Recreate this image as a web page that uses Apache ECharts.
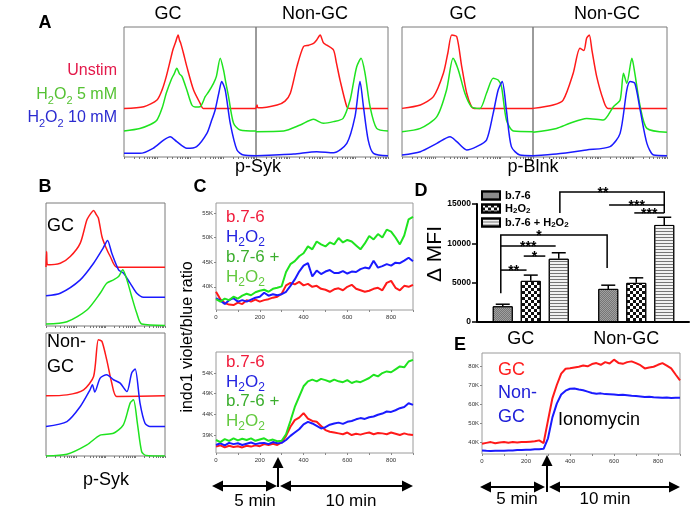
<!DOCTYPE html>
<html>
<head>
<meta charset="utf-8">
<script src="https://cdn.jsdelivr.net/npm/echarts@6/dist/echarts.min.js"></script>
<style>html,body{margin:0;padding:0;background:#fff}#main{width:695px;height:511px}</style>
</head>
<body>
<div id="main"></div>
<script>
// ---- data ----
// A: flow histograms, x = log fluorescence (0-100), y = offset count (0-100)
var aSykGcRed = [[0,37.4],[15,38.7],[25,43.8],[29,52],[32,61.8],[35,74],[37,82.3],[39,88],[41,93.8],[42,90],[43,87.4],[45,80],[47.6,69.5],[52.7,51.5],[57.7,41.3],[60,37.4],[100,37.4]];
var aSykGcGreen = [[0,20],[12,22],[20,25],[25,28.5],[29,38],[32,49],[36,60],[38,64],[40,68.2],[42,64],[44,61.8],[47.6,51.5],[51.4,40],[54,38.5],[57.7,38.7],[61.5,46.4],[64,50],[67.8,56.7],[70,62],[72.9,75.9],[75.4,66.9],[77,58],[79.2,46.4],[83,25.9],[88,20.8],[100,20]];
var aSykGcBlue = [[0,2.8],[12,2.8],[22,6.7],[30,13],[35,15.6],[40,11.8],[47.6,6.7],[55,8],[62.8,18.2],[66,27],[69,36],[72,50],[74,58],[76.7,51.5],[80.5,25.9],[85.6,5.4],[90.6,1.5],[100,1]];
var aSykNonRed = [[0,37.4],[0.8,40],[1.5,37.8],[16,40],[22,43],[26,49],[31,69.5],[36,85],[40,86],[43.6,87.4],[46,90],[48.6,93.8],[51,88],[53.7,86],[58.7,82.3],[61,72],[63.7,59],[68.8,38.7],[71,37.4],[100,37.4]];
var aSykNonGreen = [[0,19.5],[21,20],[33.5,24.6],[43.6,29],[51,25.9],[58.7,27.2],[66,29.7],[71.3,43.8],[74,58],[76.3,69.5],[79.6,75.9],[82.6,64.4],[86.4,38.7],[91.4,22],[100,20]];
var aSykNonBlue = [[0,1],[28.5,2.3],[46,4.1],[58.7,3.3],[68.8,10.5],[75,31],[78.8,58],[81.4,38.7],[85,13],[89,2.8],[100,1]];
var aBlnkGcRed = [[0,37.4],[14,40],[24,46.4],[31.6,64.4],[35,80],[38,93.8],[41.8,92.6],[45.6,69.5],[49.4,49],[53,38.7],[55,37.4],[100,37.4]];
var aBlnkGcGreen = [[0,19.5],[14,22],[26.6,31],[34,51.5],[39,75.9],[43,67],[48,49],[53,38.7],[59.5,37.4],[64.5,49],[69.6,60.5],[73.4,59.2],[76,54],[79.7,28.5],[85,20],[100,19.5]];
var aBlnkGcBlue = [[0,1.5],[14,4.1],[26.6,10.5],[36.7,15.6],[41.8,11.8],[49.4,5.4],[57,8],[64.5,13],[69.6,33.6],[73.4,51.5],[76.5,58],[79.7,36],[83.5,8],[90,1.5],[100,1]];
var aBlnkNonRed = [[0,37.4],[15,40],[22.5,43.8],[30,64.4],[35,83.6],[38,82],[40,91.3],[42,93.8],[44,82],[47.5,62],[52.5,43.8],[56,37.4],[100,37.4]];
var aBlnkNonGreen = [[0,19],[17.5,22],[27.5,25.9],[40,29.7],[52.5,28.5],[60,38.7],[65,43.8],[67.5,64.4],[70,56.7],[73.8,75.9],[76,64.4],[80,38.7],[85,22],[100,19]];
var aBlnkNonBlue = [[0,1],[17.5,2.3],[40,5.4],[57.5,8],[65,18.2],[70,51.5],[72.5,58],[76,56.7],[80,36],[85,10.5],[90,1.5],[100,1]];

// B: p-Syk histograms
var bGcRed = [[0,48],[0.5,60.6],[1.2,49.7],[12,51],[20.4,56.5],[28.8,67.4],[34.4,86.4],[38,92],[40,94],[42,91],[44,87.8],[47,72.8],[50,64.7],[54,56.5],[59.5,47.8],[100,47.8]];
var bGcBlue = [[0,24.5],[12,26.6],[28.8,37.5],[40,51],[48,63.3],[51.7,69.6],[55.3,59.2],[61,45.7],[65,43],[70.7,34.8],[76.3,26.6],[82,23.4],[100,23.4]];
var bGcGreen = [[0,1.6],[17.6,3.5],[34.4,13],[45.5,26.6],[51,34.8],[56.7,37.5],[61,40.2],[64.5,45.7],[68,37.5],[72,24],[76.3,10.3],[80.4,1.6],[100,0.5]];
var bNonRed = [[0,48.9],[17.6,49.7],[31.6,53.8],[40,64.7],[44,94.6],[47,93.2],[51,78.3],[55.3,59.2],[59.5,48.4],[100,48.9]];
var bNonBlue = [[0,24],[17.6,28],[28.8,40.2],[37,53.8],[39,58],[41,52],[45.5,63.3],[51,66],[56.7,62],[62.3,59.2],[68,52.4],[72,67.4],[74.9,70.7],[79,43],[83.2,26.6],[87.4,24],[100,24]];
var bNonGreen = [[0,0],[17.6,1.4],[34.4,9],[45.5,17],[56.7,18.5],[65,25.3],[70.7,43],[73.5,45.7],[76.8,26.6],[80.4,3.5],[84,0.5],[100,0]];

// C / E: calcium flux, time in s, ratio in K
var times = [0,20,40,60,80,100,120,140,160,180,200,220,240,260,280,300,320,340,360,380,400,420,440,460,480,500,520,540,560,580,600,620,640,660,680,700,720,740,760,780,800,820,840,860,880,900];
var cTopB76 = [39.0,37.5,36.7,36.4,36.3,36.8,36.5,37.3,37.0,37.4,37.0,37.3,37.5,37.8,38.0,38.6,40.3,40.8,40.5,41.0,40.3,40.6,40.0,40.2,39.6,39.4,39.0,39.5,39.7,39.3,40.0,40.4,39.6,39.3,39.0,39.2,39.6,39.8,39.3,40.8,41.2,39.8,39.3,40.2,40.0,40.4];
var cTopH2o2 = [37.7,37.2,36.5,37.3,37.7,37.0,37.3,37.0,37.4,37.8,38.0,38.8,38.2,38.5,38.3,38.5,39.0,40.2,41.5,43.1,44.3,44.8,42.1,43.3,42.6,43.1,43.4,42.8,42.8,43.2,42.7,43.1,43.0,43.6,43.9,43.7,45.3,43.9,44.2,44.6,44.3,44.9,44.8,45.3,45.9,45.2];
var cTopBoth = [37.5,37.0,37.6,37.3,38.0,37.6,38.2,38.6,38.3,38.9,39.2,39.4,39.0,39.6,39.8,40.1,43.0,44.6,45.2,46.2,46.8,48.2,47.6,49.2,48.6,48.2,49.0,48.6,49.9,49.0,49.5,49.2,48.4,47.6,48.8,50.3,49.6,50.7,50.0,51.6,51.2,50.0,48.6,50.4,53.7,54.2];
var cBotB76 = [36.2,36.5,36.0,36.4,36.1,36.3,36.0,36.4,36.2,36.5,36.3,36.8,36.6,36.9,36.6,37.2,38.8,41.0,42.6,43.2,44.3,43.0,42.4,42.2,41.2,40.2,39.8,39.6,39.4,39.2,39.6,39.0,39.3,39.1,39.4,39.6,39.2,39.5,39.4,39.2,39.6,39.3,39.0,39.4,39.1,39.0];
var cBotH2o2 = [36.6,37.0,36.5,37.1,36.8,37.0,36.6,36.9,37.2,36.8,37.0,37.1,36.8,37.3,37.0,37.1,37.8,38.8,39.6,40.4,41.6,42.2,41.8,41.2,40.6,40.9,41.5,41.8,42.0,41.7,42.2,42.4,42.8,43.1,42.9,43.3,43.5,43.9,44.2,44.7,44.6,45.0,45.5,45.8,46.7,46.3];
var cBotBoth = [37.8,37.3,38.0,37.6,38.2,37.7,38.1,37.8,38.2,37.6,37.9,38.2,37.6,37.9,37.5,37.6,39.2,42.4,45.8,48.3,50.8,52.0,52.4,52.0,52.6,52.3,51.9,52.4,52.0,51.8,52.3,51.6,52.0,51.8,52.3,52.8,53.6,53.2,54.0,54.4,54.2,54.9,55.6,55.4,56.8,57.2];
var eGc = [39.1,39.6,40.0,39.4,39.8,40.0,39.7,40.0,39.8,40.1,40.0,40.2,40.4,40.9,39.5,51.4,63.0,70.0,76.0,78.5,78.8,79.2,79.6,80.2,79.8,81.0,81.5,80.6,82.0,81.3,83.3,81.6,81.1,82.0,82.4,81.5,80.4,78.7,79.2,79.6,80.6,81.5,80.2,78.7,75.5,72.4];
var eNonGc = [35.6,35.4,35.3,35.4,35.5,35.4,35.6,35.6,35.8,35.8,36.0,36.0,36.2,36.3,36.5,42.0,53.0,60.2,65.0,67.0,68.0,68.1,67.6,67.2,66.5,65.8,65.4,65.6,65.2,65.1,65.0,64.8,64.9,64.6,64.3,64.2,64.0,63.7,63.8,63.5,63.4,63.3,63.4,63.2,63.3,63.3];

// D: delta MFI bars (mean, sem) for GC / Non-GC
var dGroups = ['GC', 'Non-GC'];
var dTreat = ['b.7-6', 'H2O2', 'b.7-6 + H2O2'];
var dB76 = [2000, 4210];
var dB76Sem = [260, 470];
var dH2o2 = [5230, 4975];
var dH2o2Sem = [730, 640];
var dBoth = [8040, 12335];
var dBothSem = [760, 980];
// significance brackets: group/slot of each end, line height, leg ends
var brackets = [
    {g1:0, s1:-1.07, g2:0, s2:-0.15, y:6600, leg1:6600, leg2:6600, label:'**'},
    {g1:0, s1:-1.07, g2:0, s2:0.89, y:9655, leg1:9655, leg2:9655, label:'***'},
    {g1:0, s1:-0.25, g2:0, s2:0.52, y:8380, leg1:8380, leg2:8380, label:'*'},
    {g1:0, s1:-1.07, g2:1, s2:-1.04, y:11060, leg1:3650, leg2:6850, label:'*', dx:-15},
    {g1:0, s1:1.04, g2:1, s2:1.0, y:16540, leg1:13860, leg2:13860, label:'**', dx:-9},
    {g1:1, s1:-0.97, g2:1, s2:1.0, y:14885, leg1:14885, leg2:14885, label:'***'},
    {g1:1, s1:-0.07, g2:1, s2:1.0, y:13865, leg1:13865, leg2:13865, label:'***'}
];

var FONT = '"Liberation Sans", Arial, Helvetica, sans-serif';
var RED = '#ff1a1a', GREEN = '#1fe31f', BLUE = '#1a1aff';
var SLOT = 28;

var chart = echarts.init(document.getElementById('main'));

// log-decade tick positions for the flow axes
var logTicks = [];
for (var d = 0; d < 4; d++) {
    for (var k = 1; k < 10; k++) logTicks.push(d * 25 + 25 * Math.log10(k));
}
logTicks.push(100);

var grids = [
    {left:124, top:27, width:132, height:130},
    {left:256, top:27, width:132, height:130},
    {left:402, top:27, width:131, height:130},
    {left:533, top:27, width:134, height:130},
    {left:46, top:203, width:119, height:123},
    {left:46, top:333, width:119, height:123},
    {left:216, top:203, width:197, height:107},
    {left:216, top:352, width:197, height:101},
    {left:478, top:204, width:211, height:118},
    {left:482, top:353, width:198, height:101}
];
grids.forEach(function (g, i) {
    if (i !== 8) { g.show = true; g.borderColor = i < 6 ? '#7a7a7a' : '#9a9a9a'; g.borderWidth = 1; }
});

var xAxes = [], yAxes = [];
for (var i = 0; i < 6; i++) {
    xAxes.push({type:'value', gridIndex:i, min:0, max:100, splitLine:{show:false},
        axisLine:{show:false}, axisLabel:{show:false},
        axisTick:{show:true, length:2, customValues:logTicks, lineStyle:{color:'#777'}}});
    yAxes.push({type:'value', gridIndex:i, min:0, max:100, show:false});
}
function flowX(gi) {
    return {type:'value', gridIndex:gi, min:0, max:900, splitLine:{show:false},
        axisLine:{show:false},
        axisTick:{show:true, length:2, customValues:[0,100,200,300,400,500,600,700,800,900], lineStyle:{color:'#888'}},
        axisLabel:{show:true, customValues:[0,200,400,600,800], fontSize:6, color:'#333', margin:4, fontFamily:FONT}};
}
function flowY(gi, min, max, ticks) {
    return {type:'value', gridIndex:gi, min:min, max:max, splitLine:{show:false},
        axisLine:{show:false},
        axisTick:{show:true, length:2, customValues:ticks, lineStyle:{color:'#888'}},
        axisLabel:{show:true, customValues:ticks, fontSize:6, color:'#333', margin:3, fontFamily:FONT,
            formatter:function (v) { return v + 'K'; }}};
}
xAxes.push(flowX(6)); yAxes.push(flowY(6, 35.3, 57, [40,45,50,55]));
xAxes.push(flowX(7)); yAxes.push(flowY(7, 34.65, 59.1, [39,44,49,54]));
xAxes.push({type:'category', gridIndex:8, data:dGroups,
    axisLine:{lineStyle:{color:'#000', width:2}},
    axisTick:{alignWithLabel:true, length:5, lineStyle:{color:'#000', width:1.5}},
    axisLabel:{fontSize:18, color:'#000', margin:8, fontFamily:FONT, padding:[0,20,0,0]}});
yAxes.push({type:'value', gridIndex:8, min:0, max:15000, interval:5000, offset:1,
    splitLine:{show:false},
    axisLine:{show:true, lineStyle:{color:'#000', width:2}},
    axisTick:{show:true, length:5, lineStyle:{color:'#000', width:1.5}},
    axisLabel:{fontSize:8.5, fontWeight:'bold', color:'#000', margin:6, fontFamily:FONT,
        formatter:function (v) { return String(v); }}});
xAxes.push(flowX(9)); yAxes.push(flowY(9, 33.75, 86.8, [40,50,60,70,80]));

function hist(gi, data, color) {
    return {type:'line', xAxisIndex:gi, yAxisIndex:gi, data:data, showSymbol:false, smooth:0.25,
        lineStyle:{color:color, width:1.5}, silent:true, animation:false};
}
function flux(gi, values, color) {
    return {type:'line', xAxisIndex:gi, yAxisIndex:gi, showSymbol:false, silent:true, animation:false,
        data:times.map(function (t, j) { return [t, values[j]]; }),
        lineStyle:{color:color, width:2}};
}

var series = [
    hist(0, aSykGcRed, RED), hist(0, aSykGcGreen, GREEN), hist(0, aSykGcBlue, BLUE),
    hist(1, aSykNonRed, RED), hist(1, aSykNonGreen, GREEN), hist(1, aSykNonBlue, BLUE),
    hist(2, aBlnkGcRed, RED), hist(2, aBlnkGcGreen, GREEN), hist(2, aBlnkGcBlue, BLUE),
    hist(3, aBlnkNonRed, RED), hist(3, aBlnkNonGreen, GREEN), hist(3, aBlnkNonBlue, BLUE),
    hist(4, bGcRed, RED), hist(4, bGcBlue, BLUE), hist(4, bGcGreen, GREEN),
    hist(5, bNonRed, RED), hist(5, bNonBlue, BLUE), hist(5, bNonGreen, GREEN),
    flux(6, cTopB76, RED), flux(6, cTopH2o2, BLUE), flux(6, cTopBoth, GREEN),
    flux(7, cBotB76, RED), flux(7, cBotH2o2, BLUE), flux(7, cBotBoth, GREEN),
    flux(9, eGc, RED), flux(9, eNonGc, BLUE)
];

// D bars
var barBorder = {borderColor:'#000', borderWidth:1};
series.push({type:'bar', name:dTreat[0], xAxisIndex:8, yAxisIndex:8, data:dB76, barWidth:20, barGap:'40%',
    itemStyle:Object.assign({color:'#a0a0a0', decal:{symbol:'rect', symbolSize:1, color:'#767676',
        dashArrayX:[[1,1],[0,1,1,0]], dashArrayY:[1,0]}}, barBorder)});
series.push({type:'bar', name:dTreat[1], xAxisIndex:8, yAxisIndex:8, data:dH2o2, barWidth:20, barGap:'40%',
    itemStyle:Object.assign({color:'#fff', decal:{symbol:'rect', symbolSize:1, color:'#111',
        dashArrayX:[[3,3],[0,3,3,0]], dashArrayY:[3,0]}}, barBorder)});
series.push({type:'bar', name:dTreat[2], xAxisIndex:8, yAxisIndex:8, data:dBoth, barWidth:20, barGap:'40%',
    itemStyle:Object.assign({color:'#f2f2f2', decal:{symbol:'rect', symbolSize:1, color:'#777',
        dashArrayX:[1,0], dashArrayY:[1,2]}}, barBorder)});

// error bars (upper only)
var errRows = [];
[[dB76, dB76Sem], [dH2o2, dH2o2Sem], [dBoth, dBothSem]].forEach(function (p, s) {
    p[0].forEach(function (v, g) { errRows.push([g, s - 1, v, p[1][g]]); });
});
series.push({type:'custom', xAxisIndex:8, yAxisIndex:8, data:errRows, silent:true, z:5,
    encode:{x:0, y:2},
    renderItem:function (params, api) {
        var x = api.coord([api.value(0), 0])[0] + api.value(1) * SLOT;
        var y0 = api.coord([0, api.value(2)])[1];
        var y1 = api.coord([0, api.value(2) + api.value(3)])[1];
        return {type:'group', children:[
            {type:'line', shape:{x1:x, y1:y0, x2:x, y2:y1}, style:{stroke:'#000', lineWidth:1.5}},
            {type:'line', shape:{x1:x - 7, y1:y1, x2:x + 7, y2:y1}, style:{stroke:'#000', lineWidth:1.5}}
        ]};
    }});
// significance brackets
series.push({type:'custom', xAxisIndex:8, yAxisIndex:8, silent:true, z:6,
    data:brackets.map(function (b) { return [b.g1, b.y]; }),
    encode:{x:0, y:1},
    renderItem:function (params, api) {
        var b = brackets[params.dataIndex];
        var x1 = api.coord([b.g1, 0])[0] + b.s1 * SLOT;
        var x2 = api.coord([b.g2, 0])[0] + b.s2 * SLOT;
        var y = api.coord([0, b.y])[1];
        var ya = api.coord([0, b.leg1])[1], yb = api.coord([0, b.leg2])[1];
        return {type:'group', children:[
            {type:'polyline', shape:{points:[[x1, ya], [x1, y], [x2, y], [x2, yb]]},
                style:{stroke:'#000', lineWidth:1.5, fill:null}},
            {type:'text', x:(x1 + x2) / 2 + (b.dx || 0), y:y + 1,
                style:{text:b.label, align:'center', verticalAlign:'middle', fill:'#000',
                    font:'bold 14px ' + FONT}}
        ]};
    }});

// ---- text & arrows ----
function sub(fs) {
    return {
        n:{fontSize:fs, lineHeight:fs + 6, verticalAlign:'middle', fontFamily:FONT},
        s:{fontSize:Math.round(fs * 0.68), lineHeight:Math.round(fs * 0.7), verticalAlign:'bottom', fontFamily:FONT}
    };
}
function txt(x, y, s, fs, color, opt) {
    opt = opt || {};
    return {type:'text', x:x, y:y, rotation:opt.rot || 0, silent:true,
        style:{text:s, fill:color, align:opt.align || 'center', verticalAlign:'middle',
            font:(opt.bold ? 'bold ' : '') + fs + 'px ' + FONT, rich:opt.rich}};
}
function richTxt(x, y, s, fs, color, align) {
    return txt(x, y, s, fs, color, {align:align, rich:sub(fs)});
}
function arrowH(x1, x2, y) {
    // double-headed horizontal arrow
    return [
        {type:'line', shape:{x1:x1 + 8, y1:y, x2:x2 - 8, y2:y}, style:{stroke:'#000', lineWidth:2}},
        {type:'polygon', shape:{points:[[x1, y], [x1 + 11, y - 5.5], [x1 + 11, y + 5.5]]}, style:{fill:'#000'}},
        {type:'polygon', shape:{points:[[x2, y], [x2 - 11, y - 5.5], [x2 - 11, y + 5.5]]}, style:{fill:'#000'}}
    ];
}
function arrowUp(x, y1, y2) {
    return [
        {type:'line', shape:{x1:x, y1:y1, x2:x, y2:y2 + 8}, style:{stroke:'#000', lineWidth:2}},
        {type:'polygon', shape:{points:[[x, y2], [x - 5.5, y2 + 11], [x + 5.5, y2 + 11]]}, style:{fill:'#000'}}
    ];
}

var g = [];
// panel A
g.push(txt(45, 23, 'A', 18, '#000', {bold:true}));
g.push(txt(168, 14, 'GC', 18, '#000'));
g.push(txt(315, 14, 'Non-GC', 18, '#000'));
g.push(txt(463, 14, 'GC', 18, '#000'));
g.push(txt(607, 14, 'Non-GC', 18, '#000'));
g.push(txt(117, 71, 'Unstim', 16, '#e3194a', {align:'right'}));
g.push(richTxt(117, 95, '{n|H}{s|2}{n|O}{s|2}{n| 5 mM}', 16, '#55c233', 'right'));
g.push(richTxt(117, 118, '{n|H}{s|2}{n|O}{s|2}{n| 10 mM}', 16, '#2b2bd0', 'right'));
g.push(txt(258, 167, 'p-Syk', 18, '#000'));
g.push(txt(533, 167, 'p-Blnk', 18, '#000'));
// panel B
g.push(txt(45, 187, 'B', 18, '#000', {bold:true}));
g.push(txt(47, 226, 'GC', 18, '#000', {align:'left'}));
g.push(txt(47, 342, 'Non-', 18, '#000', {align:'left'}));
g.push(txt(47, 367, 'GC', 18, '#000', {align:'left'}));
g.push(txt(106, 480, 'p-Syk', 18, '#000'));
// panel C
g.push(txt(200, 187, 'C', 18, '#000', {bold:true}));
g.push(txt(188, 337, 'indo1 violet/blue ratio', 16, '#000', {rot:Math.PI / 2}));
[[217, 237, 257, 277], [362, 382, 401, 421]].forEach(function (ys) {
    g.push(txt(226, ys[0], 'b.7-6', 17, '#f01c3c', {align:'left'}));
    g.push(richTxt(226, ys[1], '{n|H}{s|2}{n|O}{s|2}', 17, '#2424e0', 'left'));
    g.push(txt(226, ys[2], 'b.7-6 +', 17, '#3cae2e', {align:'left'}));
    g.push(richTxt(226, ys[3], '{n|H}{s|2}{n|O}{s|2}', 17, '#63c93f', 'left'));
});
g = g.concat(arrowUp(278, 487, 457), arrowH(212, 277, 486), arrowH(280, 413, 486));
g.push(txt(255, 501, '5 min', 17, '#000'));
g.push(txt(351, 501, '10 min', 17, '#000'));
// panel D
g.push(txt(421, 191, 'D', 18, '#000', {bold:true}));
g.push(txt(435, 254, '\u0394 MFI', 21, '#000', {rot:Math.PI / 2}));
// panel E
g.push(txt(460, 345, 'E', 18, '#000', {bold:true}));
g.push(txt(498, 370, 'GC', 18, '#ff1f1f', {align:'left'}));
g.push(txt(498, 393, 'Non-', 18, '#2020d8', {align:'left'}));
g.push(txt(498, 417, 'GC', 18, '#2020d8', {align:'left'}));
g.push(txt(558, 420, 'Ionomycin', 18, '#000', {align:'left'}));
g = g.concat(arrowUp(547, 492, 455), arrowH(480, 545, 487), arrowH(549, 680, 487));
g.push(txt(517, 499, '5 min', 17, '#000'));
g.push(txt(605, 499, '10 min', 17, '#000'));

var legendRich = {
    n:{fontSize:11, fontWeight:'bold', lineHeight:13, verticalAlign:'middle', fontFamily:FONT},
    s:{fontSize:8, fontWeight:'bold', lineHeight:8, verticalAlign:'bottom', fontFamily:FONT}
};

chart.setOption({
    animation:false,
    backgroundColor:'#fff',
    textStyle:{fontFamily:FONT},
    grid:grids,
    xAxis:xAxes,
    yAxis:yAxes,
    legend:{data:dTreat, orient:'vertical', left:481, top:190, itemWidth:18, itemHeight:8, itemGap:2,
        icon:'rect', selectedMode:false, padding:0,
        textStyle:{fontSize:11, fontWeight:'bold', color:'#000', rich:legendRich},
        formatter:function (name) {
            return name.replace(/H2O2/, '{n|H}{s|2}{n|O}{s|2}').replace(/^([^{]+)/, '{n|$1}');
        }},
    series:series,
    graphic:g
});
</script>
</body>
</html>
